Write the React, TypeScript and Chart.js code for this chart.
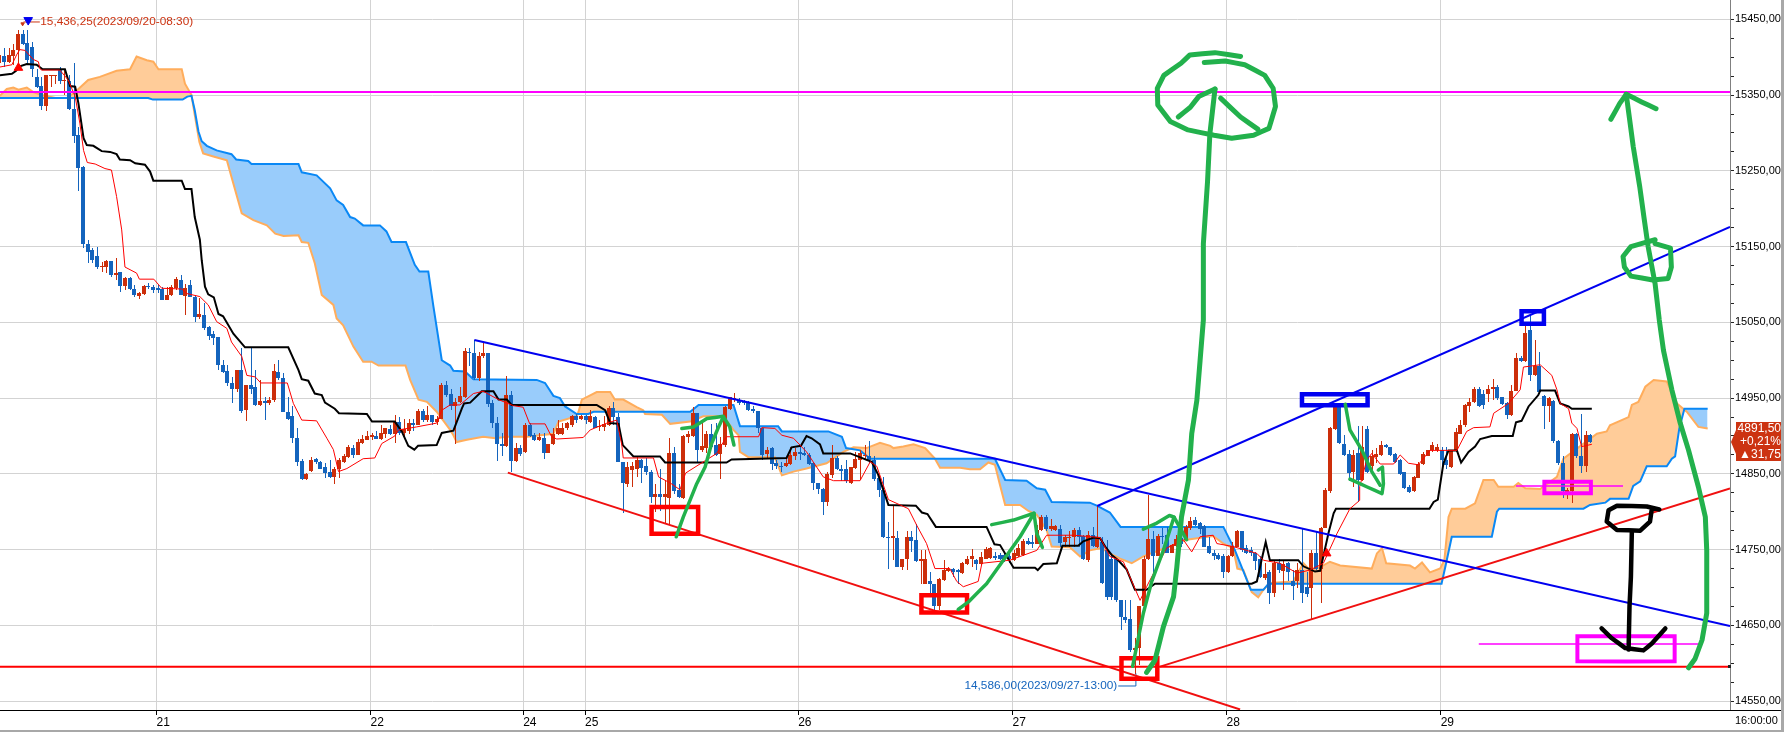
import React, { useEffect, useRef } from "react";
import { Chart, registerables } from "chart.js";

Chart.register(...registerables);

// x-axis: bar number of each day boundary and its label
const dayBars = [33.8, 79.8, 112.6, 125.9, 171.7, 217.8, 263.8, 309.8];
const dayLabels = ["21", "22", "24", "25", "26", "27", "28", "29"];

// 30-minute candles: [open, high, low, close]
const candles: number[][] = [
[15392,15410,15390,15403],[15402,15412,15387,15394],[15394,15412,15392,15403],[15401,15418,15390,15410],[15410,15436,15392,15431],[15431,15436,15416,15418],[15419,15436,15392,15396],[15413,15420,15374,15385],[15374,15385,15359,15361],[15362,15374,15330,15335],
[15335,15376,15329,15376],[15375,15376,15361,15376],[15375,15376,15365,15376],[15383,15387,15365,15369],[15369,15383,15350,15370],[15369,15376,15330,15332],[15332,15392,15287,15296],[15297,15308,15224,15254],[15255,15256,15148,15154],[15154,15159,15128,15143],
[15145,15148,15128,15132],[15137,15149,15121,15123],[15123,15130,15117,15125],[15123,15132,15115,15131],[15131,15131,15110,15112],[15113,15135,15106,15115],[15116,15116,15090,15098],[15098,15110,15093,15109],[15108,15110,15093,15094],[15094,15099,15084,15086],
[15085,15090,15081,15089],[15087,15099,15086,15098],[15098,15102,15094,15096],[15096,15099,15089,15093],[15095,15099,15089,15093],[15094,15097,15079,15080],[15080,15097,15079,15086],[15086,15099,15085,15096],[15095,15110,15093,15107],[15106,15112,15086,15086],
[15085,15101,15060,15095],[15099,15106,15084,15084],[15084,15086,15051,15057],[15057,15082,15055,15061],[15060,15075,15040,15042],[15044,15045,15027,15032],[15035,15038,15020,15029],[15031,15031,14987,14994],[14994,15000,14983,14984],[14986,14994,14966,14970],
[14970,14978,14943,14962],[14962,14987,14958,14987],[14987,15016,14930,14933],[14934,14967,14920,14967],[14967,15018,14956,14962],[14964,14987,14939,14941],[14941,14974,14939,14946],[14946,14952,14921,14944],[14943,14952,14941,14948],[14947,14995,14945,14986],
[14984,15000,14974,14976],[14977,14983,14932,14932],[14932,14952,14921,14923],[14926,14939,14891,14897],[14897,14910,14860,14866],[14867,14869,14842,14843],[14843,14851,14842,14850],[14854,14872,14852,14868],[14869,14871,14863,14865],[14865,14867,14856,14857],
[14859,14864,14845,14851],[14852,14868,14844,14846],[14846,14859,14837,14856],[14856,14871,14844,14868],[14865,14876,14864,14874],[14872,14888,14871,14885],[14884,14888,14871,14875],[14875,14896,14875,14892],[14891,14901,14890,14896],[14895,14906,14895,14900],
[14899,14904,14895,14901],[14900,14907,14896,14896],[14896,14915,14895,14904],[14903,14910,14897,14910],[14909,14915,14901,14903],[14903,14928,14891,14918],[14918,14925,14901,14904],[14904,14923,14897,14909],[14906,14923,14903,14917],[14917,14922,14906,14915],
[14915,14936,14915,14933],[14933,14935,14919,14921],[14921,14940,14919,14928],[14928,14928,14914,14918],[14918,14926,14915,14923],[14922,14970,14922,14967],[14967,14973,14952,14954],[14955,14962,14934,14940],[14940,14950,14889,14945],[14945,14965,14943,14953],
[14951,15016,14950,15012],[15011,15016,14992,15010],[15010,15027,14974,14976],[14976,15011,14972,15006],[15005,15023,15003,15009],[15009,15010,14938,14942],[14944,14948,14910,14917],[14917,14925,14867,14890],[14890,14904,14874,14887],[14887,14979,14886,14954],
[14954,14960,14853,14867],[14867,14891,14866,14884],[14884,14888,14874,14876],[14879,14917,14878,14915],[14915,14917,14899,14900],[14901,14904,14894,14895],[14895,14904,14893,14898],[14897,14904,14869,14877],[14877,14890,14877,14889],[14889,14910,14888,14903],
[14903,14921,14901,14910],[14903,14917,14901,14911],[14910,14919,14908,14917],[14914,14928,14912,14926],[14926,14929,14917,14921],[14922,14928,14921,14926],[14926,14928,14916,14921],[14919,14934,14917,14926],[14925,14926,14910,14911],[14912,14921,14907,14913],
[14912,14926,14907,14916],[14914,14940,14913,14937],[14937,14945,14914,14925],[14925,14930,14865,14866],[14866,14866,14798,14838],[14837,14866,14833,14859],[14855,14866,14832,14861],[14856,14874,14846,14868],[14868,14869,14838,14858],[14860,14871,14849,14852],
[14852,14855,14812,14820],[14820,14837,14800,14823],[14823,14857,14801,14819],[14819,14842,14785,14823],[14818,14897,14782,14877],[14877,14886,14824,14828],[14829,14837,14818,14819],[14818,14901,14817,14900],[14899,14906,14891,14902],[14900,14938,14899,14930],
[14930,14930,14864,14882],[14881,14919,14879,14887],[14884,14906,14877,14903],[14902,14916,14884,14886],[14888,14917,14873,14875],[14876,14899,14843,14889],[14888,14940,14886,14938],[14935,14952,14934,14951],[14949,14957,14945,14950],[14948,14950,14941,14944],
[14945,14948,14941,14943],[14943,14946,14933,14934],[14936,14940,14930,14933],[14933,14933,14904,14910],[14910,14911,14868,14875],[14876,14886,14871,14882],[14884,14886,14855,14863],[14864,14868,14857,14860],[14860,14866,14853,14859],[14860,14871,14859,14864],
[14863,14886,14862,14875],[14874,14884,14868,14879],[14879,14886,14868,14876],[14878,14886,14873,14875],[14875,14878,14862,14863],[14864,14866,14829,14838],[14838,14838,14824,14830],[14830,14831,14796,14813],[14813,14852,14807,14850],[14849,14888,14844,14871],
[14871,14874,14855,14857],[14857,14862,14840,14854],[14856,14868,14838,14840],[14838,14859,14837,14859],[14858,14879,14857,14870],[14868,14881,14842,14877],[14873,14888,14868,14875],[14874,14893,14864,14868],[14868,14873,14840,14843],[14844,14849,14820,14829],
[14829,14846,14765,14766],[14766,14787,14725,14765],[14765,14807,14736,14768],[14765,14774,14727,14727],[14727,14738,14723,14738],[14737,14774,14723,14766],[14766,14774,14747,14761],[14763,14784,14734,14735],[14735,14749,14705,14737],[14705,14749,14704,14737],
[14708,14721,14692,14705],[14705,14705,14670,14676],[14676,14712,14670,14711],[14710,14736,14708,14723],[14722,14727,14721,14725],[14725,14726,14714,14721],[14723,14725,14705,14720],[14719,14734,14718,14732],[14731,14741,14730,14738],[14738,14751,14727,14741],
[14736,14737,14723,14731],[14731,14747,14730,14740],[14738,14753,14738,14751],[14739,14753,14738,14752],[14741,14747,14736,14739],[14743,14745,14736,14738],[14743,14745,14734,14738],[14741,14745,14732,14737],[14736,14749,14735,14746],[14741,14758,14740,14752],
[14743,14764,14742,14762],[14762,14765,14756,14758],[14760,14769,14752,14757],[14758,14782,14757,14776],[14776,14796,14774,14793],[14793,14796,14774,14777],[14777,14791,14775,14781],[14776,14782,14774,14781],[14777,14782,14754,14759],[14760,14769,14754,14767],
[14766,14774,14754,14767],[14766,14778,14754,14776],[14776,14780,14754,14766],[14768,14769,14736,14737],[14736,14774,14734,14769],[14769,14780,14754,14755],[14754,14808,14752,14766],[14760,14767,14705,14706],[14749,14763,14683,14688],[14737,14741,14683,14688],
[14737,14738,14681,14683],[14683,14683,14644,14661],[14661,14684,14653,14657],[14658,14684,14615,14617],[14617,14633,14586,14620],[14620,14676,14598,14676],[14675,14741,14674,14738],[14737,14822,14736,14764],[14764,14774,14708,14741],[14742,14771,14741,14768],
[14768,14778,14758,14766],[14769,14780,14745,14746],[14746,14757,14745,14756],[14755,14769,14754,14764],[14765,14771,14754,14757],[14763,14782,14761,14780],[14778,14793,14776,14788],[14789,14793,14781,14782],[14785,14786,14771,14777],[14781,14782,14753,14754],
[14755,14767,14744,14746],[14746,14749,14736,14741],[14743,14745,14736,14738],[14741,14744,14713,14720],[14720,14743,14719,14742],[14741,14760,14740,14755],[14754,14776,14753,14774],[14774,14775,14747,14749],[14752,14756,14744,14746],[14750,14754,14741,14745],
[14746,14747,14723,14735],[14738,14741,14712,14714],[14712,14732,14710,14718],[14720,14723,14678,14693],[14693,14736,14688,14732],[14732,14738,14719,14723],[14722,14736,14697,14731],[14732,14733,14708,14721],[14708,14723,14683,14702],[14708,14732,14699,14723],
[14723,14777,14679,14693],[14701,14721,14688,14692],[14699,14749,14659,14746],[14746,14774,14723,14725],[14725,14780,14680,14779],[14778,14831,14778,14829],[14827,14912,14825,14910],[14909,14941,14908,14938],[14938,14943,14890,14891],[14890,14901,14873,14875],
[14876,14881,14840,14851],[14853,14881,14833,14875],[14877,14913,14813,14842],[14842,14913,14840,14886],[14909,14913,14851,14853],[14860,14881,14853,14873],[14872,14884,14864,14876],[14875,14894,14874,14888],[14888,14890,14884,14886],[14886,14886,14874,14875],
[14876,14877,14864,14866],[14868,14869,14849,14850],[14853,14853,14830,14831],[14833,14835,14825,14826],[14827,14847,14826,14846],[14845,14865,14844,14863],[14863,14879,14862,14876],[14874,14882,14873,14881],[14881,14892,14879,14888],[14881,14890,14879,14886],
[14881,14886,14859,14868],[14868,14886,14857,14862],[14859,14881,14858,14881],[14881,14911,14879,14905],[14903,14921,14902,14914],[14914,14942,14912,14941],[14940,14950,14932,14945],[14945,14964,14943,14962],[14962,14964,14938,14940],[14955,14961,14936,14941],
[14955,14967,14945,14962],[14962,14975,14947,14964],[14964,14967,14948,14950],[14951,14952,14941,14942],[14943,14945,14922,14928],[14928,14967,14926,14960],[14960,15009,14959,15003],[15003,15005,14998,14999],[14999,15045,14998,15036],[15040,15060,14972,14980],
[14980,15027,14979,14993],[14993,15011,14956,14958],[14953,14954,14909,14939],[14939,14951,14918,14950],[14946,14948,14891,14893],[14893,14895,14862,14864],[14864,14873,14818,14827],[14826,14831,14817,14829],[14828,14904,14812,14903],[14903,14904,14871,14873],
[14874,14929,14851,14861],[14861,14906,14852,14901],[14901,14903,14891,14891.5],
];

// Ichimoku lines as [bar, price]
const kijun: number[][] = [[0.1,15376],[2.7,15378],[3.6,15382],[4.4,15388],[5.9,15391],[8,15390],[9.3,15384],[14.1,15384],[15.2,15362],[16.3,15361],[17,15339],[18.1,15293],[18.8,15284],[20.2,15283],[22,15276],[23.8,15275],[25.2,15272],[25.9,15265],[28.1,15264],[29.2,15260],[31.3,15258],[32.4,15249],[33.1,15237],[39.2,15237],[39.9,15226],[41.3,15226],[42,15189],[43.1,15159],[43.5,15132],[44.2,15097],[44.9,15087],[46.1,15083],[47.1,15061],[48.1,15058],[50.3,15035],[52.8,15017],[62.1,15017],[64.3,14987],[65,14975],[66.4,14973],[67.8,14956],[69.3,14954],[70,14944],[72.1,14936],[73,14930],[79,14929],[80.1,14919],[85,14919],[86.5,14906],[87.9,14887],[89.2,14882],[90,14887],[94,14888],[95.1,14904],[97.6,14907],[99.4,14936],[99.9,14943],[101.2,14944],[103.7,14959],[106.2,14959],[107.3,14948],[109.1,14948],[110.1,14941],[128.4,14941],[130.2,14934],[131.3,14917],[133.1,14916],[134,14888],[136.3,14873],[142,14873],[143.1,14865],[156.3,14865],[157.4,14869],[169.2,14871],[170.3,14885],[172.3,14887],[173.5,14900],[174.6,14897],[176.4,14889],[177.1,14877],[182.9,14877],[187.5,14866],[188.9,14849],[191.1,14809],[197,14808],[198.3,14799],[199.5,14797],[201.3,14780],[212.2,14780],[213.9,14757],[215.1,14756],[218,14726],[222.6,14726],[223.2,14723],[224.4,14731],[227.3,14732],[228.5,14755],[231.9,14755],[233,14761],[235.2,14766],[236.6,14765],[237.7,14754],[239.1,14743],[240.5,14736],[242.3,14724],[244.1,14697],[246.6,14697],[248.4,14705],[269.2,14705],[270.3,14708],[271.3,14736],[272.2,14760],[273.1,14736],[279.2,14736],[280.3,14728],[282.8,14721],[283.9,14722],[285.7,14772],[286.8,14798],[287.3,14804],[307.4,14804],[308.3,14813],[309.2,14816],[310.4,14864],[311.5,14881],[313.3,14881],[314.2,14865],[315.8,14879],[317.2,14886],[318.3,14896],[320.8,14900],[325.3,14900],[326,14918],[327.2,14920],[328.7,14939],[330.8,14954],[331.2,14960],[334.4,14960],[335.5,14943],[337.3,14939],[338,14936],[342.3,14936]];

const tenkan: number[][] = [[0.1,15387],[2.7,15390],[3.7,15403],[4.4,15410],[5.5,15409],[7.3,15397],[8.4,15394],[8.7,15385],[9.1,15383],[13,15383],[14.8,15370],[16.3,15348],[17.3,15313],[18.1,15277],[18.9,15261],[20.6,15259],[22.7,15253],[24.1,15251],[25.2,15216],[26.3,15172],[27,15123],[29.5,15115],[30.1,15107],[33.2,15107],[34.9,15095],[39.2,15094],[40.3,15088],[43.1,15084],[44.9,15073],[46.7,15051],[48.9,15042],[49.9,15024],[52.1,15005],[53.2,14980],[55,14978],[56.2,14970],[61.9,14970],[63.2,14943],[65,14921],[68.2,14920],[70.4,14897],[71.8,14882],[72.9,14853],[74.7,14857],[78.2,14870],[80.7,14871],[82.2,14890],[85,14900],[85.8,14908],[89.7,14912],[94,14917],[95.1,14934],[96.9,14941],[99,14941],[101.9,14956],[104,14959],[107.3,14948],[110.5,14940],[112.6,14938],[114,14916],[117.3,14916],[118.7,14899],[119.8,14896],[125.5,14898],[127,14908],[130.6,14917],[132.7,14921],[133.8,14888],[134.1,14871],[140.6,14871],[141.7,14846],[144.2,14838],[146.3,14829],[147.5,14851],[154.2,14877],[156.3,14899],[163.2,14899],[163.9,14911],[166.7,14910],[168.2,14901],[170.7,14897],[173.5,14879],[177.1,14846],[179.3,14841],[185,14841],[187.2,14866],[188.6,14860],[191.1,14816],[195.4,14804],[197.2,14782],[199.3,14758],[201.1,14725],[204.3,14725],[205.8,14708],[207.2,14701],[210.4,14708],[211.2,14732],[217.2,14736],[223,14749],[225.1,14769],[230.9,14769],[236.6,14766],[238.7,14741],[241.6,14734],[245.2,14683],[246.6,14701],[250.9,14752],[254.5,14763],[256.3,14747],[258.1,14767],[260.9,14769],[261.7,14758],[265.2,14754],[268.1,14749],[270.3,14745],[271.7,14736],[275.3,14732],[278.9,14719],[281.7,14723],[284.6,14732],[287.5,14771],[290.3,14804],[292.4,14815],[292.4,14833],[293.9,14868],[295,14877],[296.8,14863],[299.7,14863],[301.1,14875],[302.9,14864],[305,14862],[307.5,14881],[313.3,14881],[315.4,14906],[316.9,14911],[320.4,14912],[321.2,14930],[324.4,14943],[326.9,14961],[327.6,14991],[331.2,14994],[333.7,14980],[334.8,14961],[335.5,14943],[337.3,14936],[338,14917],[339.1,14910],[340.1,14886],[342.3,14889]];

const spanBlue: number[][] = [[0.1,15346],[32,15346],[33,15344],[39.4,15344],[40.4,15348],[41.3,15349],[42,15330],[42.8,15302],[43.5,15289],[44.6,15283],[46.7,15277],[49.9,15272],[50.9,15265],[53.5,15263],[54.2,15259],[64.3,15259],[65,15248],[68.2,15244],[71.1,15227],[72.5,15211],[73.9,15205],[75.4,15189],[76.4,15187],[78.2,15178],[81.8,15178],[83.2,15170],[84.3,15156],[87.4,15156],[89.3,15126],[90.3,15117],[92.2,15117],[93.3,15071],[95.1,15000],[96.9,14993],[97.6,14986],[100.1,14985],[101.9,14975],[115.5,14974],[117.3,14970],[119.1,14953],[120.5,14950],[121.6,14939],[124.1,14929],[126.6,14929],[127.7,14932],[148.5,14932],[150.3,14941],[157.8,14941],[159.2,14913],[167.4,14913],[168.2,14906],[178.2,14906],[181.1,14899],[182,14884],[185,14881],[187.2,14870],[191.5,14870],[212.9,14870],[214,14870],[216.2,14842],[220.8,14841],[223,14831],[224.8,14829],[226.2,14813],[234.4,14812],[235.9,14808],[238.7,14799],[241,14780],[263.1,14780],[265.6,14749],[269,14697],[271.7,14697],[272.8,14705],[310,14705],[310.8,14727],[312.2,14767],[320.8,14767],[321.9,14800],[322.4,14804],[340.5,14804],[341.9,14809],[345.2,14812],[346.2,14817],[350.2,14817],[351.2,14834],[352.7,14840],[354.1,14860],[358.4,14860],[359.5,14870],[360.2,14873],[361.1,14910],[362.2,14936],[367.2,14936]];

const spanOrange: number[][] = [[0.1,15349],[1.6,15358],[3,15360],[4.1,15357],[5.9,15360],[7.3,15354],[9.1,15350],[12.3,15346],[14.5,15346],[16.3,15354],[19.1,15370],[21.6,15374],[25.2,15382],[28.1,15384],[29.5,15401],[31.7,15396],[33.1,15394],[34.2,15384],[39.2,15384],[39.9,15365],[41.3,15350],[42,15324],[43,15288],[43.8,15273],[46,15269],[48.9,15264],[49.9,15242],[52.1,15194],[54.6,15185],[57.5,15178],[59.3,15167],[61.1,15164],[64.3,15165],[65,15156],[66.4,15155],[67.8,15128],[69.3,15086],[71.8,15073],[72.5,15055],[73.9,15046],[76.1,15018],[78.2,14998],[80,14998],[81.5,14993],[87.3,14993],[88.3,14974],[90.1,14948],[91.9,14945],[94,14932],[96.9,14908],[97.6,14901],[98.3,14892],[100.5,14895],[104,14899],[106.6,14897],[109.1,14899],[113.4,14899],[119.1,14903],[120.2,14919],[124.1,14926],[124.5,14932],[125.2,14948],[128.4,14958],[131.3,14958],[132.3,14948],[134.1,14948],[137,14938],[138.4,14934],[138.8,14929],[142.4,14928],[144.2,14916],[148.5,14919],[151.3,14926],[155.6,14926],[157.8,14908],[158.9,14901],[159.2,14879],[161,14872],[166.7,14872],[168.2,14848],[170.7,14853],[173.5,14857],[177.8,14864],[181.4,14879],[183.6,14885],[186.4,14884],[189.3,14891],[191.5,14887],[192.2,14884],[194.3,14886],[196.5,14889],[199,14884],[201.1,14870],[202.2,14858],[206.5,14858],[208.6,14856],[210.8,14856],[212.6,14865],[214,14862],[215.1,14835],[216.2,14809],[219.4,14809],[221.2,14801],[223,14796],[225.1,14776],[226.2,14754],[230.1,14753],[232.3,14741],[234.4,14749],[236.9,14752],[238.7,14745],[240.9,14738],[243.4,14732],[245.9,14741],[255.2,14763],[260.9,14768],[263.1,14758],[265.2,14752],[266.1,14725],[267.4,14723],[269.2,14694],[270.6,14687],[271.7,14697],[273.1,14706],[278.1,14708],[280.3,14732],[281.7,14723],[283.9,14727],[286,14734],[288.2,14729],[295,14725],[296.1,14745],[297.2,14752],[298.1,14732],[303.2,14729],[304.3,14725],[305.8,14733],[307.5,14720],[309.7,14725],[310.6,14736],[311.5,14793],[312.2,14804],[315.1,14804],[317.2,14811],[319,14842],[321.2,14842],[322.2,14833],[325.5,14833],[326.5,14838],[328,14831],[331.2,14830],[334.8,14846],[336.2,14870],[343.4,14903],[345.5,14906],[346.2,14914],[350.2,14925],[350.9,14941],[352.3,14945],[353.8,14965],[355.6,14974],[358.4,14972],[360.6,14943],[362.7,14932],[365.2,14912],[367.2,14910]];

// Straight drawn lines as [bar, price]
const blueFalling = [[102.1,15026.7],[372,14649]];
const blueRising = [[236,14807.6],[372,15176]];
const redFalling = [[109.3,14851.6],[266.7,14539]];
const redRising = [[249.5,14595.5],[372,14830.9]];
const magentaLevel = [[0,15354],[372,15354]];
const redLevel = [[0,14595.5],[372,14595.5]];
const magentaShort = [[326,14834],[349,14834]];
const magentaLong = [[318,14625.4],[365.2,14625.4]];
const highLeader = [[5.2,15446.5],[8.7,15446.5]];
const lowLeader = [[240.5,14570],[244.3,14570],[244.3,14586.6]];

// Drawn boxes as [bar left, bar right, price top, price bottom]
const redBoxes = [[140.2,150.2,14806.3,14771],[198.2,208,14689.7,14667],[241.2,248.9,14606.5,14579.7]];
const blueBoxes = [[280,294.1,14955,14940.5],[327.2,332,15064.5,15048]];
const magentaBoxes = [[332.1,342.1,14839.7,14824.3],[339.2,360.1,14635.5,14602.5]];

// Hand-drawn green strokes as [bar, price]
const greenStrokes: number[][][] = [
  [[246.6,14588],[248.4,14604],[250.2,14648],[252.4,14688],[253.1,14727],[254.1,14793],[255.6,14842],[256.3,14903],[257.4,14947],[258.8,15053],[258.8,15154],[259.7,15236],[260.2,15299],[261.3,15358]],
  [[253.4,15321],[256,15334],[257.8,15348],[261.3,15358]],
  [[262.5,15346],[266.8,15321],[270.5,15305]],
  [[266.8,15401],[261.3,15406],[255.9,15403],[254,15392],[250.3,15376],[248.9,15359],[249,15337],[251.7,15315],[255.5,15304],[261.1,15297],[264.9,15293],[269.6,15297],[272.9,15306],[274.3,15335],[273.8,15359],[272,15376],[267.7,15390],[263.5,15395],[259,15393]],
  [[243.6,14596],[245.9,14666],[247.7,14708],[250.2,14749],[252.5,14793]],
  [[245.9,14777],[248.8,14785],[251.5,14795],[252.5,14793],[255.2,14763]],
  [[206.1,14671],[208.3,14681],[212.2,14705],[215.8,14736],[219.4,14767],[222.4,14798]],
  [[213.3,14783],[218,14789],[222.4,14798],[223,14771],[224.2,14753]],
  [[145.5,14767],[147,14793],[149.9,14837],[151.7,14859],[153.1,14890],[154.6,14912],[155.6,14925]],
  [[146.7,14910],[149.2,14912],[152.1,14923],[155.6,14926],[157,14912],[157.9,14888]],
  [[289.3,14942],[290.3,14908],[292.9,14881],[295,14853],[296.8,14835]],
  [[290.3,14843],[293.9,14833],[297.2,14824],[297.5,14837],[297.3,14859],[296.4,14855]],
  [[349.7,15351],[351.2,15282],[352.6,15229],[353.5,15189],[354.4,15150],[355.9,15101],[356.8,15053],[357.7,15013],[359.5,14961],[361.3,14917],[363.1,14881],[365.2,14833],[366.7,14793],[367,14749],[367,14666],[366,14631],[364.5,14606],[363.1,14594]],
  [[346.4,15318],[348.3,15339],[349.7,15351],[353,15341],[356.1,15332]],
  [[355.9,15159],[350.7,15150],[349,15137],[349.3,15123],[350.7,15111],[355.4,15106],[358.7,15108],[359.4,15123],[359.2,15148],[355.9,15154]],
];

// Hand-drawn black strokes as [bar, price]
const blackStrokes: number[][][] = [
  [[356.8,14803],[354.1,14807],[347.7,14808],[345.9,14802],[345.5,14787],[347.7,14776],[352.7,14775],[354.8,14787],[355.2,14804]],
  [[350.9,14774],[350.7,14714],[350.4,14675],[350.2,14618]],
  [[344.4,14646],[346.6,14633],[349.5,14620],[353.4,14617],[355.2,14626],[358.1,14646]],
];

const upArrows = [[4.1,15386],[285.3,14745]];
const downArrows = [[6.2,15449]];
const smallDownArrows = [[5,15444]];

const priceMin = 14538.3;
const priceMax = 15475.5;
const lastPrice = 14891.5;
const highLabel = { bar: 8.8, price: 15446.5, text: "15,436,25(2023/09/20-08:30)" };
const lowLabel = { bar: 240.3, price: 14570, text: "14,586,00(2023/09/27-13:00)" };
const tagLines = ["14891,50", "+0,21%", "\u25B231,75"];
const cornerTime = "16:00:00";

const UP = "#cc2e0a";
const DOWN = "#1464bd";
const AXIS_FONT = "'Liberation Sans', sans-serif";

const xy = (pairs: number[][]) => pairs.map(([x, y]) => ({ x, y }));
const boxPath = ([l, r, t, b]: number[]) => [[l, t], [r, t], [r, b], [l, b], [l, t]];

const line = (data: number[][], color: string, width: number, order: number, extra: object = {}) => ({
  type: "line",
  data: xy(data),
  borderColor: color,
  backgroundColor: color,
  borderWidth: width,
  pointRadius: 0,
  tension: 0,
  fill: false,
  order,
  ...extra,
});

const hand = { tension: 0.001, borderCapStyle: "round", borderJoinStyle: "round" };
const box = { tension: 0.001, borderCapStyle: "square", borderJoinStyle: "miter" };

const snapBars = {
  id: "snapBars",
  beforeDatasetDraw(chart: any, args: any) {
    const meta = args.meta;
    if (meta.type !== "bar") return;
    const isWick = chart.data.datasets[meta.index].label === "wick";
    meta.data.forEach((el: any) => {
      el.x = isWick ? Math.round(el.x) + 0.5 : Math.round(el.x);
      const top = Math.round(Math.min(el.y, el.base));
      let bottom = Math.round(Math.max(el.y, el.base));
      if (bottom - top < 1) bottom = top + 1;
      el.y = top;
      el.base = bottom;
    });
  },
};

const chrome = {
  id: "chrome",
  afterDraw(chart: any) {
    const { ctx, scales } = chart;
    const x = scales.x;
    const y = scales.y;
    ctx.save();

    ctx.fillStyle = "#000";
    ctx.fillRect(0, 710, 1781, 1);
    ctx.fillStyle = "#a8a8a8";
    ctx.fillRect(1781, 0, 3, 732);
    ctx.fillRect(0, 730, 1784, 2);
    ctx.fillStyle = "#808080";
    ctx.fillRect(1730, 0, 1, 710);

    ctx.fillStyle = "#222";
    ctx.fillRect(1728, Math.round(y.getPixelForValue(14595.5)) - 2, 3, 3);

    ctx.textBaseline = "middle";
    ctx.font = `11.8px ${AXIS_FONT}`;
    ctx.textAlign = "left";
    ctx.fillStyle = "#cc3311";
    ctx.fillText(highLabel.text, x.getPixelForValue(highLabel.bar), y.getPixelForValue(highLabel.price));
    ctx.textAlign = "right";
    ctx.fillStyle = "#1464bd";
    ctx.fillText(lowLabel.text, x.getPixelForValue(lowLabel.bar), y.getPixelForValue(lowLabel.price));

    const py = Math.round(y.getPixelForValue(lastPrice));
    ctx.fillStyle = "#cc3311";
    ctx.beginPath();
    ctx.moveTo(1731, py);
    ctx.lineTo(1736, py - 12);
    ctx.lineTo(1736, py - 20);
    ctx.lineTo(1781, py - 20);
    ctx.lineTo(1781, py + 19);
    ctx.lineTo(1736, py + 19);
    ctx.lineTo(1736, py + 12);
    ctx.closePath();
    ctx.fill();
    ctx.save();
    ctx.beginPath();
    ctx.rect(1737, py - 20, 44, 39);
    ctx.clip();
    ctx.fillStyle = "#fff";
    ctx.textAlign = "right";
    ctx.font = `12px ${AXIS_FONT}`;
    tagLines.forEach((t, i) => ctx.fillText(t, 1781, py - 13 + i * 13));
    ctx.restore();

    ctx.fillStyle = "#000";
    ctx.textAlign = "left";
    ctx.font = `11px ${AXIS_FONT}`;
    ctx.fillText(cornerTime, 1735, 721);
    ctx.restore();
  },
};

export default function App() {
  const ref = useRef<HTMLCanvasElement | null>(null);

  useEffect(() => {
    const datasets: any[] = [
      line(spanOrange, "#ffad5c", 2, 20, {
        fill: { target: 1, above: "#ffcc99", below: "#99ccfb" },
      }),
      line(spanBlue, "#0a88f5", 2, 19),
      line(tenkan, "#ff0000", 1, 6),
      line(kijun, "#000000", 2, 7),
      {
        type: "bar",
        label: "wick",
        data: candles.map((c, i) => ({ x: i, y: [c[2], c[1]] })),
        backgroundColor: candles.map((c) => (c[3] >= c[0] ? UP : DOWN)),
        barThickness: 1,
        grouped: false,
        inflateAmount: 0,
        order: 9,
      },
      {
        type: "bar",
        label: "body",
        data: candles.map((c, i) => ({ x: i, y: [Math.min(c[0], c[3]), Math.max(c[0], c[3])] })),
        backgroundColor: candles.map((c) => (c[3] >= c[0] ? UP : DOWN)),
        barThickness: 4,
        grouped: false,
        inflateAmount: 0,
        order: 8,
      },
      line(magentaLevel, "#ff00ff", 2, 4),
      line(redLevel, "#ff0000", 2, 4),
      line(blueFalling, "#0000f0", 2, 4),
      line(blueRising, "#0000f0", 2, 4),
      line(redFalling, "#f01010", 2, 4),
      line(redRising, "#f01010", 2, 4),
      line(magentaShort, "#ff00ff", 1.5, 4),
      line(magentaLong, "#ff00ff", 1.5, 4),
      line(highLeader, "#cc3311", 1, 4),
      line(lowLeader, "#1464bd", 1, 4),
      ...redBoxes.map((b) => line(boxPath(b), "#ff0000", 4.5, 3, box)),
      ...blueBoxes.map((b) => line(boxPath(b), "#0000f0", 4.5, 3, box)),
      ...magentaBoxes.map((b) => line(boxPath(b), "#ff00ff", 4, 3, box)),
      ...greenStrokes.map((s, i) => line(s, "#22b14c", i < 4 || i > 11 ? 5 : 3.5, 2, hand)),
      ...blackStrokes.map((s) => line(s, "#000000", 4.5, 1, hand)),
      {
        type: "line",
        data: xy(upArrows),
        showLine: false,
        pointStyle: "triangle",
        pointRadius: 5,
        pointBackgroundColor: "#ff0000",
        pointBorderColor: "#ff0000",
        order: 0,
      },
      {
        type: "line",
        data: xy(downArrows),
        showLine: false,
        pointStyle: "triangle",
        pointRotation: 180,
        pointRadius: 5,
        pointBackgroundColor: "#0000f0",
        pointBorderColor: "#0000f0",
        order: 0,
      },
      {
        type: "line",
        data: xy(smallDownArrows),
        showLine: false,
        pointStyle: "triangle",
        pointRotation: 180,
        pointRadius: 2,
        pointBackgroundColor: "#cc3311",
        pointBorderColor: "#cc3311",
        order: 0,
      },
    ];

    const chart = new Chart(ref.current as HTMLCanvasElement, {
      type: "bar",
      data: { datasets },
      plugins: [snapBars, chrome],
      options: {
        animation: false,
        responsive: false,
        events: [],
        layout: { padding: 0, autoPadding: false },
        plugins: { legend: { display: false }, tooltip: { enabled: false } },
        scales: {
          x: {
            type: "linear",
            position: "bottom",
            offset: false,
            min: 0.14,
            max: 372,
            afterBuildTicks(scale: any) {
              scale.ticks = dayBars.map((value) => ({ value }));
            },
            afterFit(scale: any) {
              scale.height = 22;
              scale.paddingLeft = 0;
              scale.paddingRight = 0;
            },
            grid: { color: "#d3d3d3", tickColor: "#000", tickLength: 5, offset: false },
            border: { color: "#000" },
            ticks: {
              autoSkip: false,
              maxRotation: 0,
              align: "start",
              padding: 0,
              color: "#000",
              font: { family: AXIS_FONT, size: 12 },
              callback: (_v: any, i: number) => dayLabels[i],
            },
          },
          y: {
            type: "linear",
            position: "right",
            min: priceMin,
            max: priceMax,
            afterBuildTicks(scale: any) {
              const t = [];
              for (let v = 14550; v <= 15450; v += 25) t.push({ value: v });
              scale.ticks = t;
            },
            afterFit(scale: any) {
              scale.width = 57;
              scale.paddingTop = 0;
              scale.paddingBottom = 0;
            },
            grid: {
              color: (c: any) => (c.tick && c.tick.value % 100 === 50 ? "#d3d3d3" : "rgba(0,0,0,0)"),
              tickColor: "#222",
              tickLength: 4,
            },
            border: { color: "#808080" },
            ticks: {
              autoSkip: false,
              padding: 1,
              color: "#000",
              font: { family: AXIS_FONT, size: 11 },
              callback: (v: any) => (Number(v) % 100 === 50 ? `${v},00` : ""),
            },
          },
        },
      } as any,
    } as any);
    return () => chart.destroy();
  }, []);

  return (
    <div style={{ position: "fixed", left: 0, top: 0, width: 1787, height: 732, background: "#fff" }}>
      <canvas ref={ref} width={1787} height={732} style={{ display: "block" }} />
    </div>
  );
}
